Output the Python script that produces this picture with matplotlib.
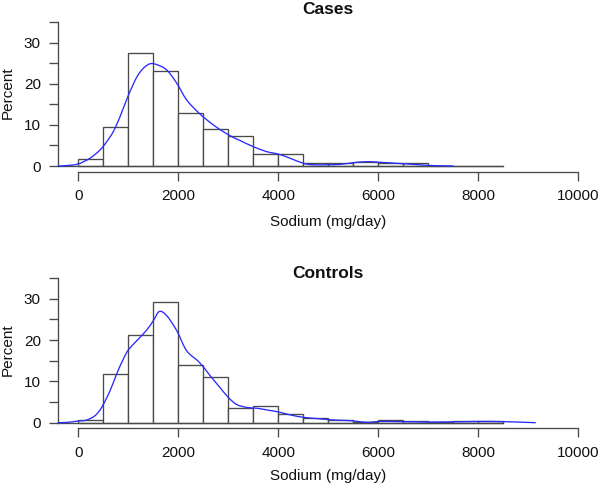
import matplotlib
matplotlib.use("Agg")
import matplotlib.pyplot as plt
from matplotlib.path import Path
from matplotlib.patches import PathPatch
import numpy as np

plt.rcParams['font.family'] = ['Liberation Sans', 'DejaVu Sans']

# ---- data ----
bin_width = 500
bin_start = 0
bin_end = 8500

cases_pct = [1.7, 9.6, 27.6, 23.2, 12.85, 9.0, 7.3, 2.85, 2.85,
             0.7, 0.7, 1.05, 0.8, 0.65, 0.0, 0.0, 0.0]
controls_pct = [0.7, 11.8, 21.3, 29.1, 14.0, 11.0, 3.55, 4.1, 2.1,
                1.05, 0.65, 0.25, 0.6, 0.3, 0.15, 0.5, 0.5]

cases_kde_x = [-410, -231, 0, 236, 436, 569, 703, 836, 1003, 1169, 1303, 1436,
               1569, 1769, 1969, 2169, 2423, 2703, 3003, 3236, 3503, 3769,
               4003, 4236, 4503, 4703, 4969, 5236, 5503, 5769, 6036, 6436,
               6703, 7003, 7250, 7503]
cases_kde_y = [0.0, 0.1, 0.5, 1.9, 3.9, 5.9, 8.4, 12.0, 17.2, 21.6, 23.8, 24.9,
               24.7, 23.4, 20.2, 16.1, 12.8, 10.0, 7.6, 6.2, 4.7, 3.5,
               2.9, 1.9, 0.65, 0.3, 0.3, 0.4, 0.8, 1.05, 0.9, 0.6,
               0.4, 0.15, 0.05, 0.0]

controls_kde_x = [-410, -200, 0, 169, 336, 469, 636, 769, 903, 1003, 1169, 1369,
                  1503, 1623, 1769, 1969, 2169, 2423, 2636, 2836, 3003, 3169,
                  3369, 3569, 3769, 4003, 4236, 4503, 4769, 5103, 5436, 5769,
                  6036, 6436, 6750, 7000, 7500, 8000, 8500, 8900, 9150]
controls_kde_y = [0.0, 0.1, 0.4, 0.65, 1.7, 3.7, 7.7, 11.8, 15.4, 17.6, 19.8, 22.4,
                  24.7, 26.9, 25.9, 22.3, 17.4, 14.6, 11.4, 8.5, 6.1, 4.4,
                  3.7, 3.5, 3.1, 2.6, 1.9, 1.3, 1.0, 0.65, 0.5, 0.1,
                  0.3, 0.25, 0.2, 0.15, 0.2, 0.3, 0.25, 0.1, 0.0]

titles = ["Cases", "Controls"]
xlabel = "Sodium (mg/day)"
ylabel = "Percent"
xticks = [0, 2000, 4000, 6000, 8000, 10000]
yticks = [0, 5, 10, 15, 20, 25, 30, 35]


def smooth_path(xs, ys):
    """Bezier path passing through the read points (Catmull-Rom tangents)."""
    pts = np.column_stack([xs, ys]).astype(float)
    verts = [pts[0]]
    codes = [Path.MOVETO]
    n = len(pts)
    for i in range(n - 1):
        p0 = pts[i - 1] if i > 0 else pts[i]
        p1, p2 = pts[i], pts[i + 1]
        p3 = pts[i + 2] if i + 2 < n else pts[i + 1]
        c1 = p1 + (p2 - p0) / 6.0
        c2 = p2 - (p3 - p1) / 6.0
        verts += [c1, c2, p2]
        codes += [Path.CURVE4] * 3
    return Path(verts, codes)


# ---- layout (pixel geometry) ----
W, H = 600, 484
fig = plt.figure(figsize=(6, 4.84), dpi=100)
axcol = '#4a4a4a'
edge = '#4a4a4a'
curve = '#2a2aff'
PX = 0.72  # points per pixel

panels = [
    dict(title=titles[0], pct=cases_pct, kx=cases_kde_x, ky=cases_kde_y,
         y0=166.0, y35=22.3, title_base=14.0, xlab_base=226.0, ylab_c=93.0),
    dict(title=titles[1], pct=controls_pct, kx=controls_kde_x, ky=controls_kde_y,
         y0=422.7, y35=278.0, title_base=278.0, xlab_base=480.0, ylab_c=350.0),
]

x_left_px, x0_px, x10k_px = 57.7, 78.2, 578.3
scale = (x10k_px - x0_px) / 10000.0
xmin = -(x0_px - x_left_px) / scale

edges = np.arange(bin_start, bin_end + bin_width, bin_width)

for p in panels:
    hpx = p['y0'] - p['y35']
    ax = fig.add_axes([x_left_px / W, (H - p['y0']) / H,
                       (x10k_px - x_left_px) / W, hpx / H])
    ax.set_xlim(xmin, 10000)
    ax.set_ylim(0, 35)
    ax.patch.set_alpha(0)
    ax.bar(edges[:-1], p['pct'], width=bin_width, align='edge',
           facecolor='white', edgecolor=edge, linewidth=0.95, zorder=2, clip_on=False)
    ax.plot([xmin, edges[-1]], [0, 0], color=edge, linewidth=0.95, zorder=2, clip_on=False)
    ax.add_patch(PathPatch(smooth_path(p['kx'], p['ky']), facecolor='none',
                           edgecolor=curve, linewidth=0.95, zorder=3, clip_on=False))

    for s in ['top', 'right']:
        ax.spines[s].set_visible(False)
    ax.spines['left'].set_bounds(0, 35)
    ax.spines['bottom'].set_bounds(0, 10000)
    ax.spines['bottom'].set_position(('outward', 5.7 * PX))
    for s in ['left', 'bottom']:
        ax.spines[s].set_color(axcol)
        ax.spines[s].set_linewidth(0.95)

    ax.set_xticks(xticks)
    ax.set_xticklabels([str(t) for t in xticks])
    ax.set_yticks(yticks)
    ax.set_yticklabels([str(t) if t % 10 == 0 else '' for t in yticks])
    ax.tick_params(axis='x', direction='out', length=9.3 * PX, width=0.95, color=axcol,
                   labelsize=11, pad=8.0 * PX, labelcolor='#111111')
    ax.tick_params(axis='y', direction='out', length=9.3 * PX, width=0.95, color=axcol,
                   labelsize=11, pad=7.6 * PX, labelcolor='#111111')

    ax.set_xlabel(xlabel, fontsize=11, color='#111111')
    ax.xaxis.label.set_va('baseline')
    ax.xaxis.set_label_coords(5000, (p['y0'] - p['xlab_base']) / hpx,
                              transform=ax.get_xaxis_transform())
    ax.set_ylabel(ylabel, fontsize=11, color='#111111')
    ax.yaxis.label.set_va('center')
    ax.yaxis.set_label_coords((7.5 - x_left_px) / (x10k_px - x_left_px),
                              (p['y0'] - p['ylab_c']) / hpx)
    ax.text(5000, (p['y0'] - p['title_base']) / hpx, p['title'],
            transform=ax.get_xaxis_transform(),
            ha='center', va='baseline', fontsize=12.5, fontweight='bold', color='#111111')

fig.savefig('out.png', dpi=100)
